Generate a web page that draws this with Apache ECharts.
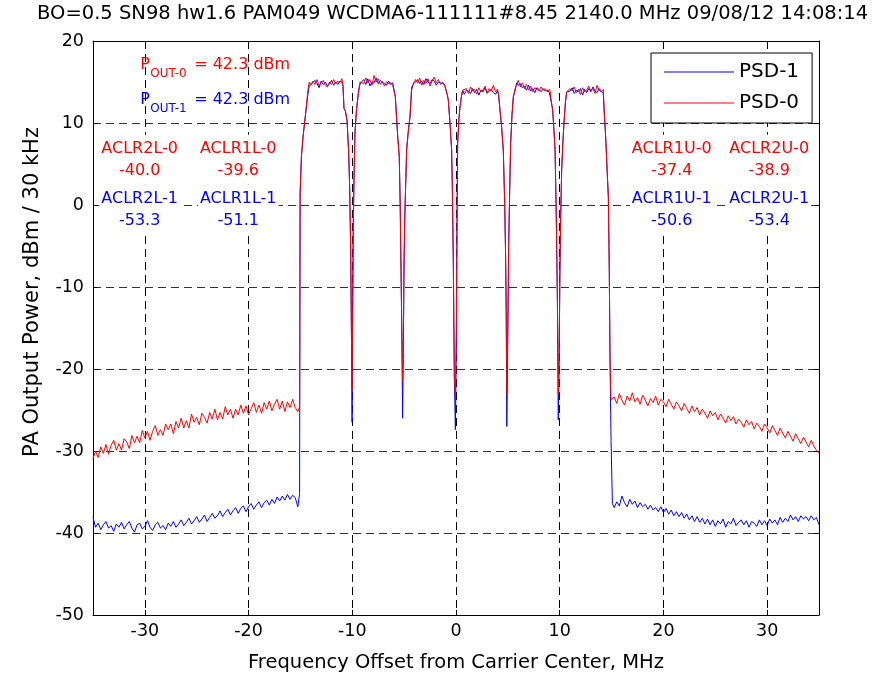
<!DOCTYPE html>
<html>
<head>
<meta charset="utf-8">
<script src="https://cdn.jsdelivr.net/npm/echarts@6.0.0/dist/echarts.min.js"></script>
<style>
  body { margin: 0; background: #fff; }
  #main { width: 884px; height: 674px; }
</style>
</head>
<body>
<div id="main"></div>
<script>
// 频谱数据：PSD-0 红线，PSD-1 蓝线（横轴 MHz，纵轴 dBm / 30 kHz）
// 左侧邻道
var leftSkirtFreq = [-35, -34.75, -34.5, -34.25, -34, -33.75, -33.5, -33.25, -33, -32.75,
  -32.5, -32.25, -32, -31.75, -31.5, -31.25, -31, -30.75, -30.5, -30.25,
  -30, -29.75, -29.5, -29.25, -29, -28.75, -28.5, -28.25, -28, -27.75,
  -27.5, -27.25, -27, -26.75, -26.5, -26.25, -26, -25.75, -25.5, -25.25,
  -25, -24.75, -24.5, -24.25, -24, -23.75, -23.5, -23.25, -23, -22.75,
  -22.5, -22.25, -22, -21.75, -21.5, -21.25, -21, -20.75, -20.5, -20.25,
  -20, -19.75, -19.5, -19.25, -19, -18.75, -18.5, -18.25, -18, -17.75,
  -17.5, -17.25, -17, -16.75, -16.5, -16.25, -16, -15.75, -15.5, -15.25];
var leftSkirtPsd0 = [-30.9, -30.0, -30.8, -29.5, -30.3, -29.2, -30.4, -29.3, -28.7, -29.9,
  -29.1, -29.9, -28.5, -28.9, -29.7, -28.1, -29.0, -28.2, -29.0, -27.5,
  -28.4, -27.6, -28.7, -27.6, -26.9, -28.1, -27.4, -28.1, -26.7, -27.4,
  -26.7, -27.9, -26.4, -27.2, -26.0, -27.2, -26.3, -27.2, -25.5, -26.5,
  -25.9, -26.8, -25.4, -25.9, -26.6, -25.3, -26.1, -24.9, -26.2, -25.3,
  -26.1, -24.6, -25.6, -24.9, -26.0, -24.9, -25.6, -24.4, -25.4, -24.5,
  -25.6, -24.8, -24.1, -25.3, -24.4, -25.4, -24.1, -24.9, -23.9, -25.1,
  -24.3, -23.7, -24.9, -23.9, -25.2, -24.0, -24.7, -23.7, -24.7, -25.2];
var leftSkirtPsd1 = [-38.1, -39.3, -38.8, -39.6, -39.0, -38.6, -39.4, -39.1, -39.8, -38.9,
  -39.3, -38.7, -39.5, -39.0, -38.6, -39.4, -39.9, -39.0, -38.8, -39.5,
  -39.2, -38.5, -39.3, -39.7, -39.0, -38.7, -39.4, -39.1, -39.6, -38.8,
  -39.2, -38.6, -39.3, -38.9, -38.4, -39.1, -38.7, -38.2, -38.9, -38.5,
  -38.0, -38.7, -38.3, -37.8, -38.6, -38.1, -37.6, -38.2, -37.9, -37.3,
  -38.0, -37.5, -37.1, -37.8, -37.3, -36.9, -37.6, -37.0, -36.7, -37.4,
  -36.8, -36.4, -37.1, -36.6, -36.2, -36.9, -36.3, -36.0, -36.6, -35.9,
  -36.4, -35.6, -36.1, -35.5, -36.0, -35.3, -35.9, -35.4, -35.7, -36.8];

// 6 个载波
var band1Freq = [-15.08, -15.03, -14.9, -14.75, -14.6, -14.46, -14.3, -14.15,
  -14.0, -13.8, -13.6, -13.4, -13.2, -13.0, -12.8, -12.6, -12.4, -12.2, -12.0, -11.8, -11.6, -11.4, -11.2, -11.0,
  -10.9, -10.8, -10.65, -10.5, -10.35, -10.25, -10.15, -10.08, -10.02];
var band1Psd0 = [-24.6, 1.5, 6.0, 8.3, 10.0, 11.6, 13.8, 15.0,
  14.6, 15.1, 14.7, 15.3, 14.5, 14.9, 15.2, 14.6, 14.4, 15.0, 14.7, 15.3, 14.8, 15.1, 14.9, 15.4,
  14.6, 11.8, 11.4, 10.2, 6.5, 2.0, -6.0, -16.0, -22.5];
var band1Psd1 = [-35.2, 1.5, 6.0, 8.3, 10.0, 11.6, 13.3, 14.6,
  14.4, 14.9, 15.2, 14.8, 14.3, 15.1, 14.7, 15.0, 14.5, 14.8, 15.2, 14.6, 15.0, 14.7, 15.1, 15.0,
  14.6, 11.8, 11.4, 10.2, 6.5, 2.0, -6.0, -16.0, -26.5];

var band2Freq = [-9.97, -9.9, -9.82, -9.74, -9.6, -9.42, -9.26,
  -9.1, -8.9, -8.7, -8.5, -8.3, -8.1, -7.9, -7.7, -7.5, -7.3, -7.1, -6.9, -6.7, -6.5, -6.3, -6.1,
  -5.95, -5.85, -5.72, -5.6, -5.47, -5.38, -5.3, -5.22, -5.15];
var band2Psd0 = [-14, -2, 4, 8.8, 11.5, 13.6, 15.0,
  15.2, 14.8, 15.5, 14.9, 15.3, 14.6, 15.8, 15.0, 15.4, 14.7, 15.1, 14.5, 15.0, 14.8, 14.9, 14.6,
  14.8, 13.2, 10.4, 8.0, 5.9, 0, -8, -16, -21.5];
var band2Psd1 = [-14, -2, 4, 8.8, 11.5, 13.6, 14.7,
  15.0, 15.3, 14.7, 15.4, 14.5, 15.0, 14.9, 15.5, 14.8, 15.2, 14.9, 14.8, 14.6, 15.1, 14.7, 14.9,
  14.8, 13.2, 10.4, 8.0, 5.9, 0, -8, -16, -26.0];

var band3Freq = [-5.08, -5.0, -4.92, -4.76, -4.6, -4.44, -4.28,
  -4.1, -3.9, -3.7, -3.5, -3.3, -3.1, -2.9, -2.7, -2.5, -2.3, -2.1, -1.9, -1.7, -1.5, -1.3, -1.1,
  -0.95, -0.85, -0.74, -0.58, -0.42, -0.34, -0.26, -0.16, -0.06];
var band3Psd0 = [-16, -6, -0.6, 6.7, 9.0, 10.7, 14.4,
  14.7, 15.3, 14.9, 15.5, 14.6, 15.2, 14.8, 15.4, 14.5, 15.1, 15.6, 14.9, 15.3, 14.7, 15.0, 14.6,
  14.6, 13.5, 12.8, 10.0, 6.7, 1.0, -6.7, -21, -23.5];
var band3Psd1 = [-18, -6, -0.6, 6.7, 9.0, 10.7, 14.0,
  14.9, 15.0, 15.3, 14.8, 15.1, 14.7, 15.4, 15.0, 14.8, 15.3, 15.1, 14.6, 15.0, 14.9, 14.8, 14.7,
  14.6, 13.5, 12.8, 10.0, 6.7, 1.0, -6.7, -21, -27.4];

var band4Freq = [0.04, 0.1, 0.16, 0.28, 0.39, 0.52, 0.64,
  0.8, 1.0, 1.2, 1.4, 1.6, 1.8, 2.0, 2.2, 2.4, 2.6, 2.8, 3.0, 3.2, 3.4, 3.6, 3.8, 4.0,
  4.1, 4.24, 4.4, 4.56, 4.7, 4.78, 4.84, 4.9];
var band4Psd0 = [-14, -2, 7.5, 10.5, 12.0, 13.2, 14.0,
  13.8, 14.2, 13.6, 14.4, 13.9, 14.1, 13.5, 14.3, 13.8, 14.0, 14.5, 13.7, 14.2, 13.9, 14.6, 13.8, 14.1,
  13.5, 11.6, 9.5, 6.7, 0, -6, -13, -23.0];
var band4Psd1 = [-16, -2, 7.5, 10.5, 12.0, 13.2, 14.0,
  13.5, 14.0, 13.9, 13.6, 14.2, 13.7, 14.1, 13.4, 14.0, 13.8, 14.3, 13.6, 13.9, 14.1, 13.7, 13.5, 13.9,
  13.5, 11.6, 9.5, 6.7, 0, -6, -13, -27.0];

var band5Freq = [4.98, 5.08, 5.18, 5.27, 5.4, 5.53, 5.7, 5.85,
  6.0, 6.2, 6.4, 6.6, 6.8, 7.0, 7.2, 7.4, 7.6, 7.8, 8.0, 8.2, 8.4, 8.6, 8.8, 9.0,
  9.1, 9.2, 9.32, 9.45, 9.55, 9.65, 9.72, 9.78, 9.86];
var band5Psd0 = [-16, -5, 2, 7.5, 11, 13.2, 14.2, 14.6,
  15.2, 14.4, 14.9, 14.2, 14.7, 14.0, 14.5, 13.8, 14.3, 14.1, 13.9, 14.4, 14.0, 14.2, 13.8, 14.1,
  13.8, 12.5, 11.6, 9.0, 6.7, 0, -6, -12, -23];
var band5Psd1 = [-18, -5, 2, 7.5, 11, 13.2, 14.0, 14.9,
  14.6, 14.8, 14.3, 14.5, 14.0, 14.6, 13.9, 14.2, 13.7, 14.3, 14.1, 13.8, 14.2, 13.9, 14.0, 13.7,
  13.8, 12.5, 11.6, 9.0, 6.7, 0, -6, -12, -26.2];

var band6Freq = [9.94, 10.02, 10.1, 10.19, 10.3, 10.41, 10.55, 10.67,
  10.8, 11.0, 11.2, 11.4, 11.6, 11.8, 12.0, 12.2, 12.4, 12.6, 12.8, 13.0, 13.2, 13.4, 13.6, 13.8, 14.0, 14.2,
  14.3, 14.4, 14.46, 14.58, 14.69, 14.78, 14.85, 14.95, 15.08];
var band6Psd0 = [-18, -8, -1, 4.3, 7.5, 10.0, 12.5, 13.8,
  13.6, 14.2, 13.9, 14.4, 13.7, 14.1, 13.5, 14.3, 13.8, 14.0, 14.5, 13.9, 14.2, 13.6, 14.6, 14.0, 13.8, 14.1,
  11.2, 9.0, 7.5, 4.0, 1.0, -8, -18.9, -23.8, -23.9];
var band6Psd1 = [-20, -8, -1, 4.3, 7.5, 10.0, 12.5, 13.8,
  13.8, 13.9, 14.3, 13.6, 14.0, 13.8, 14.2, 13.4, 14.1, 13.7, 14.2, 13.8, 14.4, 13.9, 13.7, 14.2, 13.9, 13.6,
  11.2, 9.0, 7.5, 4.0, 1.0, -8, -18.9, -28.7, -36.4];

// 右侧邻道
var rightSkirtFreq = [15.25, 15.5, 15.75, 16, 16.25, 16.5, 16.75, 17, 17.25, 17.5,
  17.75, 18, 18.25, 18.5, 18.75, 19, 19.25, 19.5, 19.75, 20,
  20.25, 20.5, 20.75, 21, 21.25, 21.5, 21.75, 22, 22.25, 22.5,
  22.75, 23, 23.25, 23.5, 23.75, 24, 24.25, 24.5, 24.75, 25,
  25.25, 25.5, 25.75, 26, 26.25, 26.5, 26.75, 27, 27.25, 27.5,
  27.75, 28, 28.25, 28.5, 28.75, 29, 29.25, 29.5, 29.75, 30,
  30.25, 30.5, 30.75, 31, 31.25, 31.5, 31.75, 32, 32.25, 32.5,
  32.75, 33, 33.25, 33.5, 33.75, 34, 34.25, 34.5, 34.75, 35];
var rightSkirtPsd0 = [-23.4, -24.2, -23.0, -23.8, -24.4, -23.3, -23.9, -22.9, -24.0, -23.5,
  -24.3, -23.2, -23.8, -24.5, -23.6, -24.1, -23.3, -24.4, -23.7, -24.0,
  -24.6, -23.7, -24.3, -24.9, -24.0, -24.5, -25.1, -24.2, -24.8, -25.4,
  -24.5, -25.2, -24.7, -25.6, -24.9, -25.4, -26.0, -25.1, -25.7, -25.3,
  -26.2, -25.5, -26.0, -26.6, -25.7, -26.3, -25.8, -26.7, -26.1, -26.5,
  -27.1, -26.2, -26.8, -26.4, -27.3, -26.6, -27.0, -27.6, -26.7, -27.2,
  -27.8, -26.9, -27.5, -28.1, -27.2, -27.8, -28.4, -27.6, -28.2, -28.8,
  -27.9, -28.5, -29.1, -28.3, -28.9, -29.5, -28.7, -29.4, -29.9, -30.3];
var rightSkirtPsd1 = [-36.9, -36.2, -36.7, -35.5, -36.3, -36.8, -35.9, -36.5, -36.1, -36.9,
  -36.3, -36.8, -36.5, -37.1, -36.6, -37.2, -36.9, -37.4, -36.8, -37.5,
  -37.0, -37.7, -37.2, -37.9, -37.4, -38.0, -37.5, -38.2, -37.7, -38.4,
  -37.9, -38.6, -38.0, -38.7, -38.2, -38.9, -38.3, -39.0, -38.4, -39.2,
  -38.5, -38.9, -38.3, -39.3, -38.6, -38.9, -38.2, -39.1, -38.7, -38.4,
  -39.0, -38.5, -39.3, -38.6, -38.8, -39.2, -38.4, -39.0, -38.5, -39.1,
  -38.3, -38.8, -38.4, -39.0, -38.1, -38.7, -38.2, -38.6, -37.8, -38.4,
  -38.0, -38.6, -37.9, -38.3, -38.0, -38.5, -37.9, -38.4, -38.1, -39.0];

// 标注文字
var aclrLabels0 = ['ACLR2L-0', 'ACLR1L-0', 'ACLR1U-0', 'ACLR2U-0'];
var aclrValues0 = ['-40.0', '-39.6', '-37.4', '-38.9'];
var aclrLabels1 = ['ACLR2L-1', 'ACLR1L-1', 'ACLR1U-1', 'ACLR2U-1'];
var aclrValues1 = ['-53.3', '-51.1', '-50.6', '-53.4'];
var poutSubs = ['OUT-0', 'OUT-1'];
var poutValues = ['42.3 dBm', '42.3 dBm'];

var RED = '#ff0000';
var BLUE = '#0000ff';
var FONT = 'DejaVu Sans';

// 把频率和功率拼成 [x, y]
function pairs(freq, vals) {
    return freq.map(function (f, i) { return [f, vals[i]]; });
}
var psd0 = [].concat(
    pairs(leftSkirtFreq, leftSkirtPsd0), pairs(band1Freq, band1Psd0), pairs(band2Freq, band2Psd0),
    pairs(band3Freq, band3Psd0), pairs(band4Freq, band4Psd0), pairs(band5Freq, band5Psd0),
    pairs(band6Freq, band6Psd0), pairs(rightSkirtFreq, rightSkirtPsd0));
var psd1 = [].concat(
    pairs(leftSkirtFreq, leftSkirtPsd1), pairs(band1Freq, band1Psd1), pairs(band2Freq, band2Psd1),
    pairs(band3Freq, band3Psd1), pairs(band4Freq, band4Psd1), pairs(band5Freq, band5Psd1),
    pairs(band6Freq, band6Psd1), pairs(rightSkirtFreq, rightSkirtPsd1));

var myChart = echarts.init(document.getElementById('main'));

// 上边和右边的框线（只要刻度，不要文字）
var boxAxis = {
    axisLine: { show: true, onZero: false, lineStyle: { color: '#000', width: 1 } },
    axisTick: { show: true, inside: true, length: 5, lineStyle: { color: '#000' } },
    axisLabel: { show: false },
    splitLine: { show: false }
};

var option = {
    animation: false,
    backgroundColor: '#fff',
    textStyle: { fontFamily: FONT },
    title: {
        text: 'BO=0.5 SN98 hw1.6 PAM049 WCDMA6-111111#8.45 2140.0 MHz 09/08/12 14:08:14',
        left: 37,
        top: 4,
        padding: 0,
        textStyle: { fontSize: 19.5, fontWeight: 'normal', color: '#000', fontFamily: FONT }
    },
    grid: { left: 93, right: 65, top: 41, bottom: 59, containLabel: false, outerBoundsMode: 'none' },
    legend: {
        orient: 'vertical',
        left: 651,
        top: 53,
        padding: [9, 13, 10, 13],
        icon: 'rect',
        itemWidth: 70,
        itemHeight: 1,
        itemGap: 11,
        borderColor: '#000',
        borderWidth: 1,
        borderRadius: 0,
        backgroundColor: '#fff',
        textStyle: { fontSize: 20, color: '#000', fontFamily: FONT }
    },
    xAxis: [{
        type: 'value',
        min: -35,
        max: 35,
        splitNumber: 7,
        name: 'Frequency Offset from Carrier Center, MHz',
        nameLocation: 'middle',
        nameGap: 38,
        nameTextStyle: { fontSize: 19.5, color: '#000', fontFamily: FONT },
        axisLine: { show: true, onZero: false, lineStyle: { color: '#000', width: 1 } },
        axisTick: { show: true, inside: true, length: 5, lineStyle: { color: '#000' } },
        axisLabel: { color: '#000', fontSize: 17.5, margin: 7, showMinLabel: false, showMaxLabel: false, fontFamily: FONT },
        splitLine: { show: true, lineStyle: { color: '#000', width: 1, type: [8, 5] } }
    }, Object.assign({ type: 'value', min: -35, max: 35, splitNumber: 7, position: 'top' }, boxAxis)],
    yAxis: [{
        type: 'value',
        min: -50,
        max: 20,
        interval: 10,
        axisLine: { show: true, onZero: false, lineStyle: { color: '#000', width: 1 } },
        axisTick: { show: true, inside: true, length: 5, lineStyle: { color: '#000' } },
        axisLabel: { color: '#000', fontSize: 17.5, margin: 9, fontFamily: FONT },
        splitLine: { show: true, lineStyle: { color: '#333', width: 1, type: [8, 5] } }
    }, Object.assign({ type: 'value', min: -50, max: 20, interval: 10, position: 'right' }, boxAxis)],
    series: [
        {
            name: 'PSD-1',
            type: 'line',
            data: psd1,
            symbol: 'none',
            lineStyle: { color: BLUE, width: 1 },
            itemStyle: { color: BLUE },
            z: 2
        },
        {
            name: 'PSD-0',
            type: 'line',
            data: psd0,
            symbol: 'none',
            lineStyle: { color: RED, width: 1 },
            itemStyle: { color: RED },
            z: 3
        }
    ]
};
myChart.setOption(option);

// 标注：先用坐标轴把数据位置换成像素
function px(x, y) {
    return myChart.convertToPixel({ seriesIndex: 0 }, [x, y]);
}
// 两行文字，白底盖住网格线
function label(x, y, text, color) {
    var p = px(x, y);
    return {
        type: 'text', x: p[0], y: p[1], silent: true, z: 100,
        style: {
            text: text, fill: color, fontSize: 16, fontFamily: FONT, lineHeight: 22,
            align: 'center', verticalAlign: 'middle', backgroundColor: '#fff', padding: [3, 2]
        }
    };
}
var aclrFreq = [-30.5, -21.0, 20.8, 30.2];
var aclrRows = [5.52, -0.58];
var graphics = [];
aclrFreq.forEach(function (f, i) {
    graphics.push(label(f, aclrRows[0], aclrLabels0[i] + '\n' + aclrValues0[i], RED));
    graphics.push(label(f, aclrRows[1], aclrLabels1[i] + '\n' + aclrValues1[i], BLUE));
});
// P_OUT 带下标
var poutRows = [17.05, 12.8];
[RED, BLUE].forEach(function (color, i) {
    var p = px(-30.45, poutRows[i]);
    var base = { fill: color, fontFamily: FONT, align: 'left', verticalAlign: 'middle' };
    graphics.push({
        type: 'group', x: p[0], y: p[1], silent: true, z: 100,
        children: [
            { type: 'text', x: 0, y: 0, style: Object.assign({ text: 'P', fontSize: 16 }, base) },
            { type: 'text', x: 10, y: 9, style: Object.assign({ text: poutSubs[i], fontSize: 12 }, base) },
            { type: 'text', x: 54, y: 0, style: Object.assign({ text: '= ' + poutValues[i], fontSize: 16 }, base) }
        ]
    });
});
// 纵轴标题
graphics.push({
    type: 'text', x: 33, y: 292, rotation: Math.PI / 2, silent: true,
    style: { text: 'PA Output Power, dBm / 30 kHz', fill: '#000', fontSize: 21, fontFamily: FONT, align: 'center', verticalAlign: 'middle' }
});
myChart.setOption({ graphic: graphics });
</script>
</body>
</html>
